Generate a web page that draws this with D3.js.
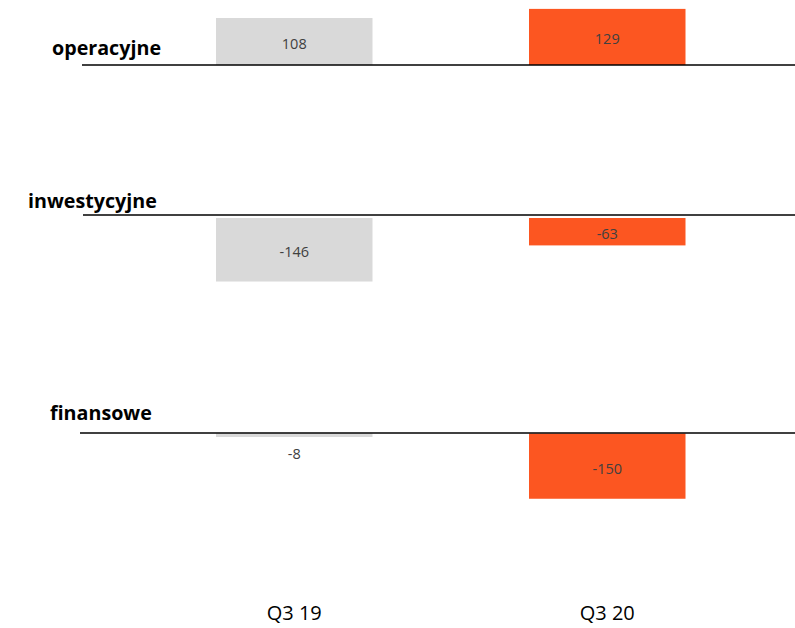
<!DOCTYPE html>
<html>
<head>
<meta charset="utf-8">
<script src="https://cdn.jsdelivr.net/npm/d3@7/dist/d3.min.js"></script>
<style>
  html, body { margin: 0; padding: 0; background: #fff; }
  svg { display: block; }
</style>
</head>
<body>
<svg id="chart" width="795" height="628"></svg>
<script>
// Cash flows by type (PLN m), Q3 19 vs Q3 20
const periods = ["Q3 19", "Q3 20"];
const flows = ["operacyjne", "inwestycyjne", "finansowe"];
const valuesQ319 = [108, -146, -8];
const valuesQ320 = [129, -63, -150];

const colors = { "Q3 19": "#D9D9D9", "Q3 20": "#FC5621" };

const svg = d3.select("#chart");
const W = 795;

// panel layout: bar zero line and axis rule for each flow type
const panelZero = [65, 218, 433.5];
const ruleY = [65, 215, 433];
const ruleX0 = [82, 83, 80];
const titleX = [52, 28, 50];
const titleY = [54.5, 208, 420];

// shared horizontal position of the two periods
const x = d3.scaleBand().domain(periods).range([216, 685.5]).paddingInner(0.5).paddingOuter(0);

// shared vertical scale: pixels per unit of value
const h = d3.scaleLinear().domain([0, 150]).range([0, 65.25]);

const rows = flows.map((f, i) => ({
  flow: f,
  i,
  values: [
    { period: periods[0], value: valuesQ319[i] },
    { period: periods[1], value: valuesQ320[i] }
  ]
}));

const panel = svg.selectAll("g.panel").data(rows).join("g").attr("class", "panel");

panel.each(function (row) {
  const g = d3.select(this);
  const z = panelZero[row.i];
  const y = d3.scaleLinear().domain([-150, 150]).range([z + h(150), z - h(150)]);

  g.selectAll("rect").data(row.values).join("rect")
    .attr("x", d => x(d.period))
    .attr("width", x.bandwidth())
    .attr("y", d => Math.min(y(d.value), y(0)))
    .attr("height", d => Math.abs(y(d.value) - y(0)))
    .attr("fill", d => colors[d.period]);

  g.append("line")
    .attr("x1", ruleX0[row.i]).attr("x2", W)
    .attr("y1", ruleY[row.i]).attr("y2", ruleY[row.i])
    .attr("stroke", "#000").attr("stroke-width", 1.5);

  g.selectAll("text.val").data(row.values).join("text")
    .attr("class", "val")
    .attr("x", d => x(d.period) + x.bandwidth() / 2)
    .attr("y", d => {
      const hh = Math.abs(y(d.value) - y(0));
      if (hh < 20) return y(d.value) + (d.value < 0 ? 17 : -17);
      return (y(d.value) + y(0)) / 2 + 2;
    })
    .attr("text-anchor", "middle")
    .attr("dominant-baseline", "central")
    .attr("font-family", "'Open Sans', 'Noto Sans', sans-serif")
    .attr("font-size", 14.5)
    .attr("fill", "#404040")
    .text(d => d.value);

  g.append("text")
    .attr("x", titleX[row.i]).attr("y", titleY[row.i])
    .attr("font-family", "'Open Sans', 'Noto Sans', sans-serif")
    .attr("font-weight", "bold")
    .attr("font-size", 19.7)
    .attr("fill", "#000")
    .text(row.flow);
});

// period labels along the bottom
const axis = svg.append("g")
  .attr("transform", "translate(0,598)")
  .call(d3.axisBottom(x).tickSize(0).tickPadding(0));
axis.select(".domain").remove();
axis.selectAll("text")
  .attr("dy", "0.71em")
  .attr("y", 8)
  .attr("font-family", "'Open Sans', 'Noto Sans', sans-serif")
  .attr("font-size", 20)
  .attr("fill", "#000");
</script>
</body>
</html>
